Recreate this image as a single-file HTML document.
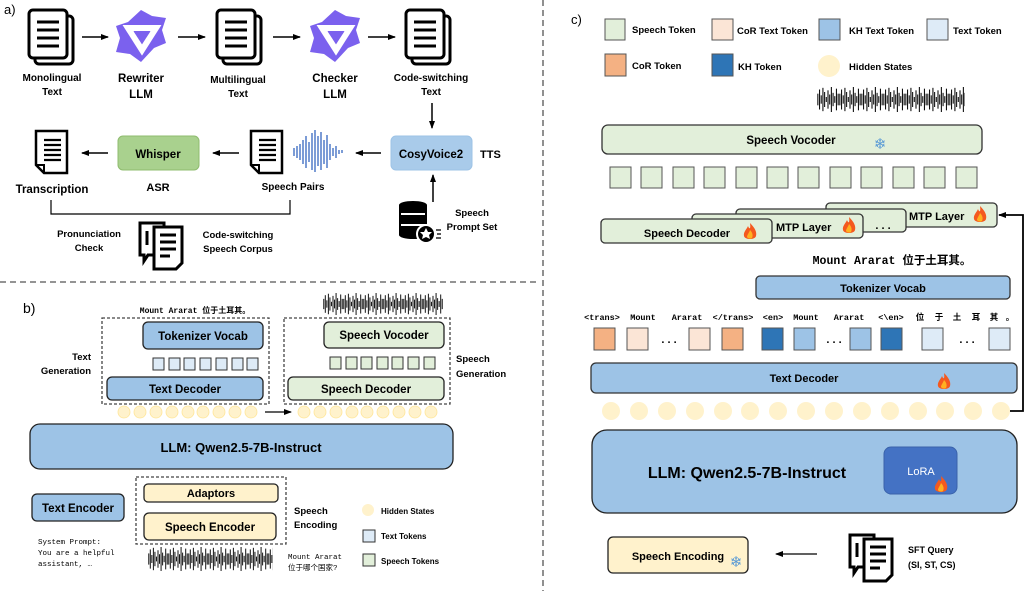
<!DOCTYPE html>
<html><head><meta charset="utf-8"><style>
html,body{margin:0;padding:0;background:#fff;}
svg{display:block;font-family:"Liberation Sans","Noto Sans CJK SC",sans-serif;}
.b{font-weight:bold;}
.m{font-family:"Liberation Mono","Noto Sans CJK SC",monospace;}
</style></head><body>
<svg width="1025" height="591" viewBox="0 0 1025 591" xmlns="http://www.w3.org/2000/svg">
<defs>
<marker id="ah" markerWidth="8" markerHeight="8" refX="7" refY="4" orient="auto" markerUnits="userSpaceOnUse"><path d="M0,1 L8,4 L0,7 z" fill="#000"/></marker>
<g id="wvg" stroke="#111" stroke-width="1.3"><line x1="1" y1="8" x2="1" y2="22"/><line x1="3" y1="3" x2="3" y2="27"/><line x1="5" y1="10" x2="5" y2="20"/><line x1="7" y1="1" x2="7" y2="29"/><line x1="9" y1="6" x2="9" y2="24"/><line x1="11" y1="12" x2="11" y2="18"/><line x1="13" y1="4" x2="13" y2="26"/><line x1="15" y1="9" x2="15" y2="21"/><line x1="17" y1="0" x2="17" y2="30"/><line x1="19" y1="7" x2="19" y2="23"/><line x1="21" y1="11" x2="21" y2="19"/><line x1="23" y1="2" x2="23" y2="28"/><line x1="25" y1="8" x2="25" y2="22"/></g>
<pattern id="wv1" x="323" y="293" width="20" height="22" patternUnits="userSpaceOnUse" viewBox="0 0 26 30" preserveAspectRatio="none"><use href="#wvg"/></pattern>
<pattern id="wv2" x="148" y="547" width="20" height="24" patternUnits="userSpaceOnUse" viewBox="0 0 26 30" preserveAspectRatio="none"><use href="#wvg"/></pattern>
<pattern id="wv3" x="817" y="87" width="22" height="25" patternUnits="userSpaceOnUse" viewBox="0 0 26 30" preserveAspectRatio="none"><use href="#wvg"/></pattern>
<g id="fire"><path d="M0,-9 C5,-4 7,0 6,4 C5,8 -5,8 -6,4 C-7,0 -3,-3 -2,-6 C-1,-3 1,-2 0,-9z" fill="#f4591f"/><path d="M0,-2 C3,1 3,4 2,6 C1,7 -2,7 -3,5 C-3,3 -1,1 0,-2z" fill="#ffb020"/></g>
<g id="doc2"><rect x="6" y="6" width="38" height="48" rx="4" fill="#fff" stroke="#000" stroke-width="3"/><rect x="0" y="0" width="38" height="48" rx="4" fill="#fff" stroke="#000" stroke-width="3"/><g stroke="#000" stroke-width="3"><line x1="8" y1="12" x2="30" y2="12"/><line x1="8" y1="20" x2="30" y2="20"/><line x1="8" y1="28" x2="30" y2="28"/><line x1="8" y1="36" x2="30" y2="36"/></g></g>
<g id="qwen"><polygon points="25,0 36,6 50,8 46,20 50,33 38,38 25,52 14,44 0,42 4,28 0,16 12,12" fill="#7b61ee"/><polygon points="12,18 40,18 26,40" fill="none" stroke="#fff" stroke-width="6"/><polygon points="18,22 34,22 26,34" fill="#7b61ee"/></g>
<g id="page"><path d="M0,0 H31 V42 H8 L0,34 Z" fill="#fff" stroke="#000" stroke-width="2.5"/><path d="M0,34 H8 V42" fill="none" stroke="#000" stroke-width="2"/><g stroke="#000" stroke-width="2.2"><line x1="8" y1="9" x2="25" y2="9"/><line x1="8" y1="14" x2="25" y2="14"/><line x1="8" y1="19" x2="25" y2="19"/><line x1="8" y1="24" x2="25" y2="24"/><line x1="8" y1="29" x2="25" y2="29"/></g></g>
<g id="corpus"><path d="M2,2 H26 V34 H10 L6,40 V34 H2 Z" fill="#fff" stroke="#000" stroke-width="3"/><line x1="9" y1="10" x2="9" y2="24" stroke="#000" stroke-width="3"/><path d="M16,6 H44 V42 L38,48 H16 Z" fill="#fff" stroke="#000" stroke-width="3"/><g stroke="#000" stroke-width="3"><line x1="22" y1="14" x2="38" y2="14"/><line x1="22" y1="21" x2="38" y2="21"/><line x1="22" y1="28" x2="38" y2="28"/><line x1="22" y1="35" x2="32" y2="35"/></g></g>
</defs>

<line x1="0" y1="282" x2="540" y2="282" stroke="#555" stroke-width="1.3" stroke-dasharray="6,4"/>
<line x1="543" y1="0" x2="543" y2="591" stroke="#555" stroke-width="1.3" stroke-dasharray="6,4"/>

<!-- ===== a) ===== -->
<text x="4" y="14" font-size="13">a)</text>
<use href="#doc2" x="29" y="10"/>
<use href="#qwen" x="116" y="10"/>
<use href="#doc2" x="217" y="10"/>
<use href="#qwen" x="310" y="10"/>
<use href="#doc2" x="406" y="10"/>
<g stroke="#000" stroke-width="1.5" marker-end="url(#ah)">
<line x1="82" y1="37" x2="108" y2="37"/><line x1="178" y1="37" x2="205" y2="37"/><line x1="273" y1="37" x2="300" y2="37"/><line x1="368" y1="37" x2="395" y2="37"/>
<line x1="432" y1="103" x2="432" y2="128"/>
<line x1="381" y1="153" x2="356" y2="153"/><line x1="239" y1="153" x2="213" y2="153"/><line x1="108" y1="153" x2="82" y2="153"/>
<line x1="433" y1="202" x2="433" y2="175"/>
</g>
<g class="b" font-size="10" text-anchor="middle">
<text x="52" y="81">Monolingual</text><text x="52" y="95">Text</text>
<text x="141" y="82" font-size="11.5">Rewriter</text><text x="141" y="98" font-size="11.5">LLM</text>
<text x="238" y="83">Multilingual</text><text x="238" y="97">Text</text>
<text x="335" y="82" font-size="11.5">Checker</text><text x="335" y="98" font-size="11.5">LLM</text>
<text x="431" y="81">Code-switching</text><text x="431" y="95">Text</text>
</g>
<rect x="391" y="136" width="81" height="34" rx="5" fill="#a9cbea" stroke="#9dc3e6"/>
<text x="431" y="158" class="b" font-size="11.5" text-anchor="middle">CosyVoice2</text>
<text x="480" y="158" class="b" font-size="11">TTS</text>
<g stroke="#4472c4" stroke-width="1.4">
<line x1="294" y1="148" x2="294" y2="156"/><line x1="297" y1="146" x2="297" y2="158"/><line x1="300" y1="144" x2="300" y2="160"/><line x1="303" y1="140" x2="303" y2="164"/><line x1="306" y1="136" x2="306" y2="168"/><line x1="309" y1="142" x2="309" y2="162"/><line x1="312" y1="133" x2="312" y2="170"/><line x1="315" y1="130" x2="315" y2="172"/><line x1="318" y1="136" x2="318" y2="166"/><line x1="321" y1="132" x2="321" y2="170"/><line x1="324" y1="140" x2="324" y2="164"/><line x1="327" y1="135" x2="327" y2="168"/><line x1="330" y1="144" x2="330" y2="160"/><line x1="333" y1="148" x2="333" y2="156"/><line x1="336" y1="146" x2="336" y2="158"/><line x1="339" y1="150" x2="339" y2="154"/><line x1="342" y1="150" x2="342" y2="153"/>
</g>
<use href="#page" x="251" y="131"/>
<text x="293" y="190" class="b" font-size="10" text-anchor="middle">Speech Pairs</text>
<rect x="118" y="136" width="81" height="34" rx="5" fill="#a9d18e" stroke="#8fbc6f"/>
<text x="158" y="158" class="b" font-size="11.5" text-anchor="middle">Whisper</text>
<text x="158" y="191" class="b" font-size="11" text-anchor="middle">ASR</text>
<use href="#page" x="36" y="131"/>
<text x="52" y="193" class="b" font-size="11.5" text-anchor="middle">Transcription</text>
<path d="M51,200 V214 H290 V200" fill="none" stroke="#000" stroke-width="1.2"/>
<text x="89" y="237" class="b" font-size="9.5" text-anchor="middle">Pronunciation</text><text x="89" y="251" class="b" font-size="9.5" text-anchor="middle">Check</text>
<use href="#corpus" x="138" y="221"/>
<text x="238" y="238" class="b" font-size="9.5" text-anchor="middle">Code-switching</text><text x="238" y="252" class="b" font-size="9.5" text-anchor="middle">Speech Corpus</text>
<g>
<ellipse cx="413" cy="205" rx="14" ry="4" fill="#000"/><rect x="399" y="205" width="28" height="30" fill="#000"/><ellipse cx="413" cy="235" rx="14" ry="4" fill="#000"/>
<line x1="401" y1="214" x2="425" y2="214" stroke="#fff" stroke-width="2"/><line x1="401" y1="225" x2="425" y2="225" stroke="#fff" stroke-width="2"/>
<circle cx="426" cy="234" r="9" fill="#000" stroke="#fff" stroke-width="2"/><polygon points="426,228 428,232 432,232 429,235 430,239 426,237 422,239 423,235 420,232 424,232" fill="#fff"/>
<g stroke="#000" stroke-width="1.3"><line x1="436" y1="230" x2="441" y2="230"/><line x1="437" y1="234" x2="441" y2="234"/><line x1="436" y1="238" x2="441" y2="238"/></g>
</g>
<text x="472" y="216" class="b" font-size="9.5" text-anchor="middle">Speech</text><text x="472" y="230" class="b" font-size="9.5" text-anchor="middle">Prompt Set</text>

<!-- ===== b) ===== -->
<text x="23" y="313" font-size="14">b)</text>
<text x="195" y="313" class="m b" font-size="8" text-anchor="middle">Mount Ararat 位于土耳其。</text>
<rect x="323" y="293" width="120" height="22" fill="url(#wv1)"/>
<rect x="102" y="318" width="167" height="86" fill="none" stroke="#444" stroke-width="1.3" stroke-dasharray="3,2"/>
<rect x="284" y="318" width="166" height="86" fill="none" stroke="#444" stroke-width="1.3" stroke-dasharray="3,2"/>
<rect x="143" y="322" width="120" height="27" rx="5" fill="#9dc3e6" stroke="#222" stroke-width="1.3"/>
<text x="203" y="340" class="b" font-size="11.5" text-anchor="middle">Tokenizer Vocab</text>
<g fill="#deebf7" stroke="#333" stroke-width="1">
<rect x="153" y="358" width="11" height="12"/><rect x="169" y="358" width="11" height="12"/><rect x="184" y="358" width="11" height="12"/><rect x="200" y="358" width="11" height="12"/><rect x="216" y="358" width="11" height="12"/><rect x="232" y="358" width="11" height="12"/><rect x="247" y="358" width="11" height="12"/>
</g>
<rect x="107" y="377" width="156" height="23" rx="5" fill="#9dc3e6" stroke="#222" stroke-width="1.3"/>
<text x="185" y="393" class="b" font-size="11.5" text-anchor="middle">Text Decoder</text>
<text x="91" y="360" class="b" font-size="9.5" text-anchor="end">Text</text><text x="91" y="374" class="b" font-size="9.5" text-anchor="end">Generation</text>
<rect x="324" y="322" width="120" height="26" rx="5" fill="#e2efda" stroke="#222" stroke-width="1.3"/>
<text x="384" y="339" class="b" font-size="11.5" text-anchor="middle">Speech Vocoder</text>
<g fill="#e2efda" stroke="#333" stroke-width="1">
<rect x="330" y="357" width="11" height="12"/><rect x="346" y="357" width="11" height="12"/><rect x="361" y="357" width="11" height="12"/><rect x="377" y="357" width="11" height="12"/><rect x="392" y="357" width="11" height="12"/><rect x="408" y="357" width="11" height="12"/><rect x="424" y="357" width="11" height="12"/>
</g>
<rect x="288" y="377" width="156" height="23" rx="5" fill="#e2efda" stroke="#222" stroke-width="1.3"/>
<text x="366" y="393" class="b" font-size="11.5" text-anchor="middle">Speech Decoder</text>
<text x="456" y="362" class="b" font-size="9.5">Speech</text><text x="456" y="377" class="b" font-size="9.5">Generation</text>
<g fill="#fff2cc" stroke="#ffe699" stroke-width="0.8">
<circle cx="124" cy="412" r="6"/><circle cx="140" cy="412" r="6"/><circle cx="156" cy="412" r="6"/><circle cx="172" cy="412" r="6"/><circle cx="188" cy="412" r="6"/><circle cx="203" cy="412" r="6"/><circle cx="219" cy="412" r="6"/><circle cx="235" cy="412" r="6"/><circle cx="251" cy="412" r="6"/>
<circle cx="304" cy="412" r="6"/><circle cx="320" cy="412" r="6"/><circle cx="336" cy="412" r="6"/><circle cx="352" cy="412" r="6"/><circle cx="367" cy="412" r="6"/><circle cx="383" cy="412" r="6"/><circle cx="399" cy="412" r="6"/><circle cx="415" cy="412" r="6"/><circle cx="431" cy="412" r="6"/>
</g>
<line x1="265" y1="412" x2="291" y2="412" stroke="#000" stroke-width="1.3" marker-end="url(#ah)"/>
<rect x="30" y="424" width="423" height="45" rx="10" fill="#9dc3e6" stroke="#222" stroke-width="1.3"/>
<text x="241" y="452" class="b" font-size="13" text-anchor="middle">LLM: Qwen2.5-7B-Instruct</text>
<rect x="136" y="477" width="150" height="67" fill="none" stroke="#444" stroke-width="1.3" stroke-dasharray="3,2"/>
<rect x="144" y="484" width="134" height="18" rx="4" fill="#fff2cc" stroke="#222" stroke-width="1.3"/>
<text x="211" y="497" class="b" font-size="11" text-anchor="middle">Adaptors</text>
<rect x="144" y="513" width="132" height="27" rx="5" fill="#fff2cc" stroke="#222" stroke-width="1.3"/>
<text x="210" y="531" class="b" font-size="11.5" text-anchor="middle">Speech Encoder</text>
<rect x="32" y="494" width="92" height="27" rx="5" fill="#9dc3e6" stroke="#222" stroke-width="1.3"/>
<text x="78" y="512" class="b" font-size="11.5" text-anchor="middle">Text Encoder</text>
<g class="m" font-size="7.5"><text x="38" y="544">System Prompt:</text><text x="38" y="555">You are a helpful</text><text x="38" y="566">assistant, …</text></g>
<rect x="148" y="547" width="125" height="24" fill="url(#wv2)"/>
<g class="m" font-size="7.5"><text x="288" y="559">Mount Ararat</text><text x="288" y="570">位于哪个国家?</text></g>
<text x="294" y="514" class="b" font-size="9.5">Speech</text><text x="294" y="528" class="b" font-size="9.5">Encoding</text>
<circle cx="368" cy="510" r="6" fill="#fff2cc"/><text x="381" y="514" class="b" font-size="8">Hidden States</text>
<rect x="363" y="530" width="12" height="12" fill="#deebf7" stroke="#333"/><text x="381" y="539" class="b" font-size="8">Text Tokens</text>
<rect x="363" y="554" width="12" height="12" fill="#e2efda" stroke="#333"/><text x="381" y="564" class="b" font-size="8">Speech Tokens</text>

<!-- ===== c) ===== -->
<text x="571" y="24" font-size="13">c)</text>
<g stroke="#555" stroke-width="1">
<rect x="605" y="19" width="20" height="21" fill="#e2efda"/><rect x="712" y="19" width="21" height="21" fill="#fbe5d6"/><rect x="819" y="19" width="21" height="21" fill="#9dc3e6"/><rect x="927" y="19" width="21" height="21" fill="#deebf7"/>
<rect x="605" y="54" width="21" height="22" fill="#f4b183"/><rect x="712" y="54" width="21" height="22" fill="#2e75b6"/>
</g>
<circle cx="829" cy="66" r="11" fill="#fff2cc"/>
<g class="b" font-size="9.5">
<text x="632" y="33">Speech Token</text><text x="737" y="34">CoR Text Token</text><text x="849" y="34">KH Text Token</text><text x="953" y="34">Text Token</text>
<text x="632" y="69">CoR Token</text><text x="738" y="70">KH Token</text><text x="849" y="70">Hidden States</text>
</g>
<rect x="817" y="87" width="148" height="25" fill="url(#wv3)"/>
<rect x="602" y="125" width="380" height="29" rx="6" fill="#e2efda" stroke="#333" stroke-width="1.3"/>
<text x="791" y="144" class="b" font-size="11.5" text-anchor="middle">Speech Vocoder</text>
<text x="880" y="149" font-size="15" fill="#5b9bd5" text-anchor="middle">❄</text>
<g fill="#e2efda" stroke="#555" stroke-width="1">
<rect x="610" y="167" width="21" height="21"/><rect x="641" y="167" width="21" height="21"/><rect x="673" y="167" width="21" height="21"/><rect x="704" y="167" width="21" height="21"/><rect x="736" y="167" width="21" height="21"/><rect x="767" y="167" width="21" height="21"/><rect x="798" y="167" width="21" height="21"/><rect x="830" y="167" width="21" height="21"/><rect x="861" y="167" width="21" height="21"/><rect x="893" y="167" width="21" height="21"/><rect x="924" y="167" width="21" height="21"/><rect x="956" y="167" width="21" height="21"/>
</g>
<g fill="#e2efda" stroke="#333" stroke-width="1.3">
<rect x="826" y="203" width="171" height="24" rx="4"/>
<rect x="736" y="209" width="170" height="23" rx="4"/>
<rect x="692" y="214" width="171" height="24" rx="4"/>
<rect x="601" y="219" width="171" height="24" rx="4"/>
</g>
<text x="909" y="220" class="b" font-size="11">MTP Layer</text>
<use href="#fire" x="980" y="215"/>
<text x="883" y="229" class="b" font-size="11" text-anchor="middle">. . .</text>
<text x="776" y="231" class="b" font-size="11">MTP Layer</text>
<use href="#fire" x="849" y="226"/>
<text x="687" y="237" class="b" font-size="11" text-anchor="middle">Speech Decoder</text>
<use href="#fire" x="750" y="232"/>
<text x="892" y="264" class="m b" font-size="11.5" text-anchor="middle">Mount Ararat 位于土耳其。</text>
<rect x="756" y="276" width="254" height="23" rx="4" fill="#9dc3e6" stroke="#333" stroke-width="1.3"/>
<text x="883" y="292" class="b" font-size="11" text-anchor="middle">Tokenizer Vocab</text>
<g class="b m" font-size="8.5" text-anchor="middle">
<text x="602" y="320">&lt;trans&gt;</text><text x="643" y="320">Mount</text><text x="687" y="320">Ararat</text><text x="733" y="320">&lt;/trans&gt;</text><text x="773" y="320">&lt;en&gt;</text><text x="806" y="320">Mount</text><text x="849" y="320">Ararat</text><text x="891" y="320">&lt;\en&gt;</text>
<text x="920" y="320">位</text><text x="939" y="320">于</text><text x="957" y="320">土</text><text x="976" y="320">耳</text><text x="994" y="320">其</text><text x="1010" y="320">。</text>
</g>
<g stroke="#555" stroke-width="1">
<rect x="594" y="328" width="21" height="22" fill="#f4b183"/><rect x="627" y="328" width="21" height="22" fill="#fbe5d6"/><rect x="689" y="328" width="21" height="22" fill="#fbe5d6"/><rect x="722" y="328" width="21" height="22" fill="#f4b183"/>
<rect x="762" y="328" width="21" height="22" fill="#2e75b6"/><rect x="794" y="328" width="21" height="22" fill="#9dc3e6"/><rect x="850" y="328" width="21" height="22" fill="#9dc3e6"/><rect x="881" y="328" width="21" height="22" fill="#2e75b6"/>
<rect x="922" y="328" width="21" height="22" fill="#deebf7"/><rect x="989" y="328" width="21" height="22" fill="#deebf7"/>
</g>
<g class="b" font-size="11" text-anchor="middle"><text x="669" y="343">. . .</text><text x="834" y="343">. . .</text><text x="967" y="343">. . .</text></g>
<rect x="591" y="363" width="426" height="30" rx="5" fill="#9dc3e6" stroke="#333" stroke-width="1.3"/>
<text x="804" y="382" class="b" font-size="11" text-anchor="middle">Text Decoder</text>
<use href="#fire" x="944" y="382"/>
<g fill="#fff2cc">
<circle cx="611" cy="411" r="9"/><circle cx="639" cy="411" r="9"/><circle cx="667" cy="411" r="9"/><circle cx="695" cy="411" r="9"/><circle cx="723" cy="411" r="9"/><circle cx="750" cy="411" r="9"/><circle cx="778" cy="411" r="9"/><circle cx="806" cy="411" r="9"/><circle cx="834" cy="411" r="9"/><circle cx="862" cy="411" r="9"/><circle cx="890" cy="411" r="9"/><circle cx="918" cy="411" r="9"/><circle cx="945" cy="411" r="9"/><circle cx="973" cy="411" r="9"/><circle cx="1001" cy="411" r="9"/>
</g>
<path d="M1010,411 H1023 V215 H999" fill="none" stroke="#000" stroke-width="1.8" marker-end="url(#ah)"/>
<rect x="592" y="430" width="425" height="83" rx="15" fill="#9dc3e6" stroke="#222" stroke-width="1.3"/>
<text x="747" y="478" class="b" font-size="16" text-anchor="middle">LLM: Qwen2.5-7B-Instruct</text>
<rect x="884" y="447" width="73" height="47" rx="7" fill="#4472c4" stroke="#3a62aa"/>
<text x="921" y="475" font-size="11" fill="#fff" text-anchor="middle">LoRA</text>
<use href="#fire" x="941" y="485"/>
<rect x="608" y="537" width="140" height="36" rx="5" fill="#fff2cc" stroke="#222" stroke-width="1.3"/>
<text x="678" y="560" class="b" font-size="11" text-anchor="middle">Speech Encoding</text>
<text x="736" y="567" font-size="15" fill="#5b9bd5" text-anchor="middle">❄</text>
<line x1="817" y1="554" x2="776" y2="554" stroke="#000" stroke-width="1.3" marker-end="url(#ah)"/>
<use href="#corpus" x="848" y="533"/>
<text x="908" y="553" class="b" font-size="9">SFT Query</text><text x="908" y="568" class="b" font-size="9">(SI, ST, CS)</text>
</svg>
</body></html>
